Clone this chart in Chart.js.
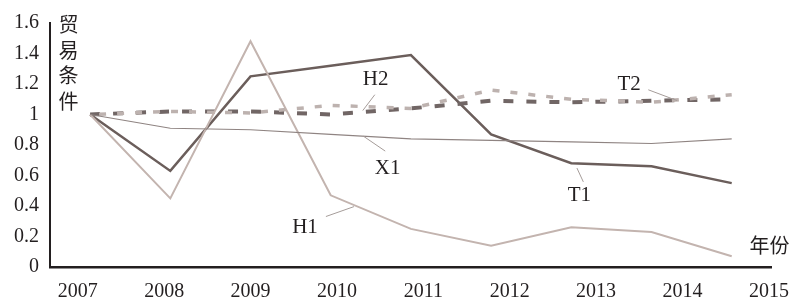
<!DOCTYPE html>
<html>
<head>
<meta charset="utf-8">
<script src="https://cdn.jsdelivr.net/npm/chart.js@4/dist/chart.umd.min.js"></script>
<style>
  html, body { margin: 0; padding: 0; background: #ffffff; }
  #wrap { width: 802px; height: 304px; }
</style>
</head>
<body>
<div id="wrap"><canvas id="tradeChart" width="802" height="304"></canvas></div>
<script>
// Years on the x axis
const years = ['2007', '2008', '2009', '2010', '2011', '2012', '2013', '2014', '2015'];
const yTickLabels = ['0', '0.2', '0.4', '0.6', '0.8', '1', '1.2', '1.4', '1.6'];

// Terms-of-trade series
const t1Values = [1.00, 0.63, 1.25, 1.32, 1.39, 0.87, 0.68, 0.66, 0.55];
const h1Values = [1.00, 0.45, 1.48, 0.47, 0.25, 0.14, 0.26, 0.23, 0.07];
const x1Values = [1.00, 0.91, 0.90, 0.87, 0.84, 0.83, 0.82, 0.81, 0.84];
const t2Values = [1.00, 1.02, 1.02, 1.00, 1.04, 1.09, 1.08, 1.09, 1.10];
const h2Values = [1.00, 1.02, 1.01, 1.06, 1.04, 1.16, 1.10, 1.08, 1.13];

const AXIS_COLOR = '#231f20';
const SERIF = '"Liberation Serif", "Times New Roman", serif';
const CJK = '"Noto Sans CJK SC", sans-serif';

// Series labels with leader lines, in data units (x = year index, y = value)
const seriesNotes = [
    { text: 'H2', at: [3.56, 1.227], from: [3.55, 1.13], to: [3.40, 1.026] },
    { text: 'T2', at: [6.72, 1.20], from: [6.96, 1.162], to: [7.32, 1.091] },
    { text: 'X1', at: [3.71, 0.649], from: [3.68, 0.76], to: [3.41, 0.857] },
    { text: 'H1', at: [2.68, 0.26], from: [2.94, 0.331], to: [3.29, 0.396] },
    { text: 'T1', at: [6.10, 0.468], from: [6.15, 0.558], to: [6.07, 0.649] },
];

const notesPlugin = {
    id: 'notes',
    afterDatasetsDraw(chart) {
        const ctx = chart.ctx;
        const xs = chart.scales.x;
        const ys = chart.scales.y;
        const px = (p) => [xs.getPixelForValue(p[0]), ys.getPixelForValue(p[1])];
        ctx.save();
        // leader lines
        ctx.strokeStyle = '#a59c99';
        ctx.lineWidth = 1;
        seriesNotes.forEach((n) => {
            const a = px(n.from);
            const b = px(n.to);
            ctx.beginPath();
            ctx.moveTo(a[0], a[1]);
            ctx.lineTo(b[0], b[1]);
            ctx.stroke();
        });
        // labels
        ctx.fillStyle = AXIS_COLOR;
        ctx.textAlign = 'center';
        ctx.textBaseline = 'middle';
        ctx.font = '21px ' + SERIF;
        seriesNotes.forEach((n) => {
            const p = px(n.at);
            ctx.fillText(n.text, p[0], p[1]);
        });
        // axis titles
        ctx.font = '20px ' + CJK;
        const yTitle = '贸易条件';
        const tx = xs.getPixelForValue(-0.27);
        const ty = ys.getPixelForValue(1.59);
        for (let i = 0; i < yTitle.length; i++) {
            ctx.fillText(yTitle[i], tx, ty + i * 25.6);
        }
        const xt = px([8.47, 0.143]);
        ctx.fillText('年份', xt[0], xt[1]);
        ctx.restore();
    },
};

const ctx = document.getElementById('tradeChart').getContext('2d');

new Chart(ctx, {
    type: 'line',
    data: {
        labels: years,
        datasets: [
            { label: 'X1', data: x1Values, borderColor: '#8f8482', borderWidth: 1.2 },
            { label: 'H1', data: h1Values, borderColor: '#c3b4af', borderWidth: 2 },
            { label: 'H2', data: h2Values, borderColor: '#bdb2af', borderWidth: 3.5, borderDash: [7, 11], borderDashOffset: 9 },
            { label: 'T2', data: t2Values, borderColor: '#716665', borderWidth: 4, borderDash: [10, 13] },
            { label: 'T1', data: t1Values, borderColor: '#6b5e5b', borderWidth: 2.5 },
        ],
    },
    options: {
        responsive: false,
        animation: false,
        devicePixelRatio: 1,
        layout: { padding: { top: 21, right: 25, bottom: 0, left: 0 } },
        elements: {
            point: { radius: 0 },
            line: { tension: 0, borderCapStyle: 'butt' },
        },
        plugins: {
            legend: { display: false },
            tooltip: { enabled: false },
        },
        scales: {
            x: {
                type: 'category',
                offset: true,
                display: false,
            },
            x2: {
                type: 'linear',
                position: 'bottom',
                min: -0.322,
                max: 8.034,
                grid: { display: false, drawTicks: false },
                border: { display: true, color: AXIS_COLOR, width: 2.5 },
                ticks: {
                    stepSize: 1,
                    includeBounds: false,
                    autoSkip: false,
                    maxRotation: 0,
                    padding: 13,
                    color: AXIS_COLOR,
                    font: { family: SERIF, size: 20 },
                    callback: (value) => years[value],
                },
                afterFit: (scale) => { scale.height = 37; },
            },
            y: {
                min: 0,
                max: 1.6,
                grid: { display: false, drawTicks: false },
                border: { display: true, color: AXIS_COLOR, width: 2 },
                ticks: {
                    stepSize: 0.2,
                    padding: 11,
                    color: AXIS_COLOR,
                    font: { family: SERIF, size: 20 },
                    callback: (value, index) => yTickLabels[index],
                },
                afterFit: (scale) => { scale.width = 50; },
            },
        },
    },
    plugins: [notesPlugin],
});
</script>
</body>
</html>
